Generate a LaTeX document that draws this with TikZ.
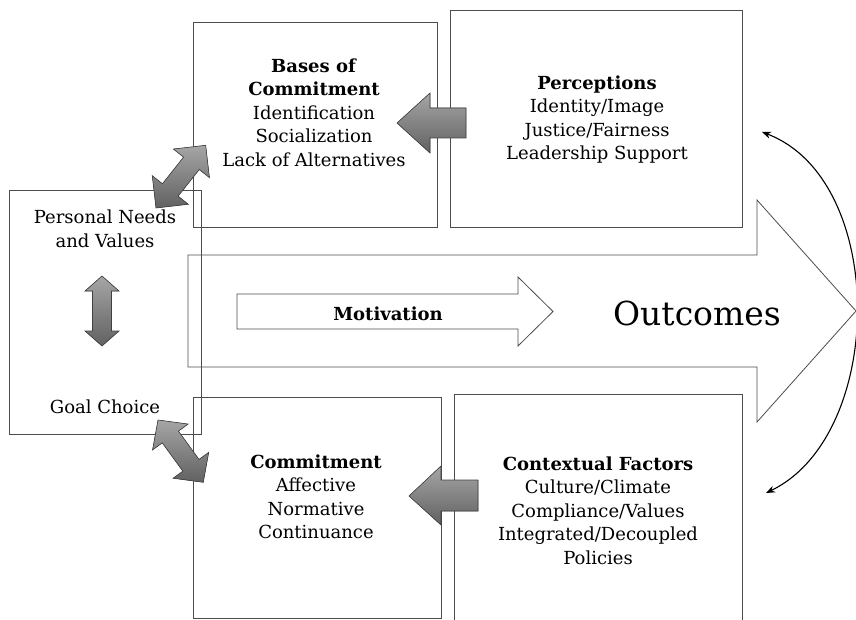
\documentclass[tikz,border=0pt]{standalone}
\usepackage{fontspec}
\setmainfont{DejaVu Serif}
\usetikzlibrary{arrows.meta,calc}
\newcommand\dblarr[4]{\filldraw[blk] (0,0) -- (#2,#3/2) -- (#2,#4/2) -- (#1-#2,#4/2) -- (#1-#2,#3/2) -- (#1,0) -- (#1-#2,-#3/2) -- (#1-#2,-#4/2) -- (#2,-#4/2) -- (#2,-#3/2) -- cycle;}
\begin{document}
\begin{tikzpicture}[x=1pt,y=-1pt,
  box/.style={draw=black!70, line width=0.8pt, inner sep=0pt, anchor=north west},
  txt/.style={align=center, font=\fontsize{18}{23.5}\selectfont, inner sep=0pt},
  blk/.style={draw=black!75, line width=0.6pt, top color=black!35, bottom color=black!62},
  outl/.style={draw=black!70, line width=0.8pt}]
\useasboundingbox (0,0) rectangle (856,620);
% boxes
\node[box, minimum width=244pt, minimum height=205pt] (bases) at (193,22) {};
\node[box, minimum width=292pt, minimum height=217pt] (percep) at (450,10) {};
\node[box, minimum width=192pt, minimum height=244pt] (personal) at (9,190) {};
\node[box, minimum width=248pt, minimum height=221pt] (commit) at (193,397) {};
\node[box, minimum width=288pt, minimum height=232pt] (context) at (454,394) {};
% big outcomes arrow
\draw[outl] (188,255) -- (757,255) -- (757,200) -- (856,311) -- (757,422) -- (757,367) -- (188,367) -- cycle;
% motivation arrow
\draw[outl] (237,294) -- (518,294) -- (518,277) -- (553,311.5) -- (518,346) -- (518,329) -- (237,329) -- cycle;
% texts
\node[txt] (basestxt) at (314,112.5) {\textbf{Bases of}\\\textbf{Commitment}\\Identification\\Socialization\\Lack of Alternatives};
\node[txt] (perctxt) at (597,119.5) {\textbf{Perceptions}\\Identity/Image\\Justice/Fairness\\Leadership Support};
\node[txt] (perstxt) at (105,229) {Personal Needs\\and Values};
\node[txt] (goaltxt) at (105,407) {Goal Choice};
\node[txt] (mottxt) at (388,314) {\textbf{Motivation}};
\node[txt, font=\fontsize{33}{38}\selectfont] (outtxt) at (697,313) {Outcomes};
\node[txt] (comtxt) at (316,497) {\textbf{Commitment}\\Affective\\Normative\\Continuance};
\node[txt] (contxt) at (598,510.7) {\textbf{Contextual Factors}\\Culture/Climate\\Compliance/Values\\Integrated/Decoupled\\Policies};
% block arrows
\filldraw[blk] (466,108) -- (430,108) -- (430,93) -- (397,123) -- (430,153) -- (430,138) -- (466,138) -- cycle;
\filldraw[blk] (478,480) -- (441,480) -- (441,466) -- (409,496) -- (441,525) -- (441,511) -- (478,511) -- cycle;
\begin{scope}[shift={(156,208)}, rotate=51.6] \dblarr{80}{23}{46}{20} \end{scope}
\begin{scope}[shift={(158,420)}, rotate=-54] \dblarr{77}{21}{44}{20} \end{scope}
\begin{scope}[shift={(102,276)}, rotate=-90] \dblarr{70}{15}{34}{19} \end{scope}
% feedback arrow
\coordinate (ca) at (762,132);
\coordinate (cb) at (766,493);
\draw[{Stealth[length=9pt,width=7pt]}-{Stealth[length=9pt,width=7pt]}, line width=1.1pt] (ca) .. controls (888,180) and (886,435) .. (cb);
\end{tikzpicture}
\end{document}
